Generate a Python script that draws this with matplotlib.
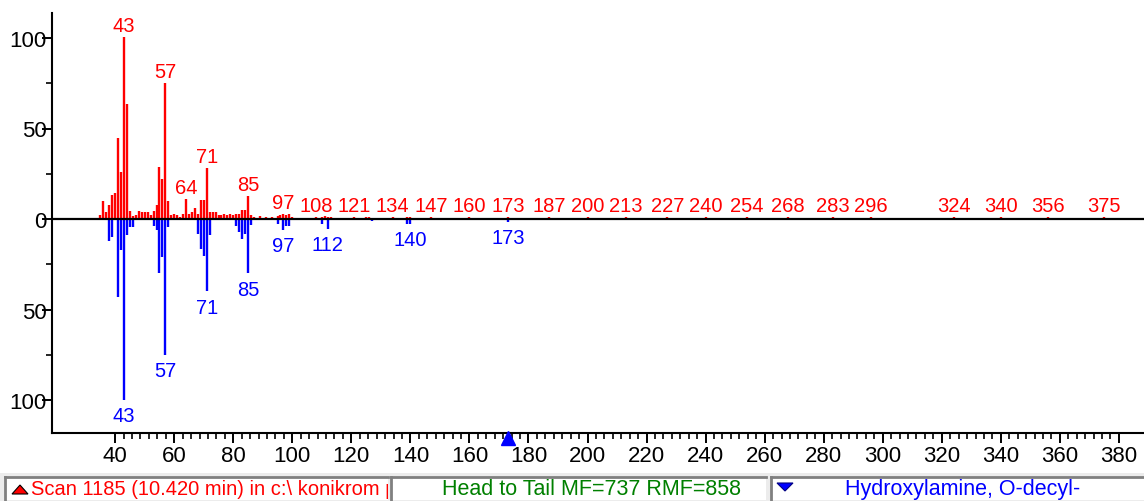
import matplotlib
matplotlib.use("Agg")
import matplotlib.pyplot as plt
from matplotlib.ticker import FixedLocator, FuncFormatter
from matplotlib.patches import Rectangle, Polygon
from matplotlib.lines import Line2D
import matplotlib.transforms as mtransforms

plt.rcParams["font.family"] = ["Liberation Sans", "DejaVu Sans"]

# sample spectrum (head, red)
head_mz = [35, 36, 37, 38, 39, 40, 41, 42, 43, 44,
           45, 46, 47, 48, 49, 50, 51, 52, 53, 54,
           55, 56, 57, 58, 59, 60, 61, 62, 63, 64,
           65, 66, 67, 68, 69, 70, 71, 72, 73, 74,
           75, 76, 77, 78, 79, 80, 81, 82, 83, 84, 85,
           86, 87, 88, 89, 90, 91, 92, 93, 94, 95,
           96, 97, 98, 99, 100, 101, 102, 103, 104, 105,
           106, 107, 108, 109, 110, 111, 112, 113, 114, 115,
           116, 117, 118, 119, 120, 121, 122, 123, 124, 125,
           126, 127, 128, 129, 130, 131, 132, 133, 134, 135,
           136, 137, 138, 139, 140, 141, 142, 143, 144, 145,
           146, 147, 148, 149, 150, 151, 152, 153, 154, 155,
           156, 157, 158, 159, 160, 161, 162, 163, 164, 165,
           166, 167, 168, 169, 170, 171, 172, 173, 174, 175,
           176, 177, 178, 179, 180, 181, 182, 183, 184, 185,
           186, 187, 188, 189, 190, 191, 192, 193, 194, 195,
           196, 197, 198, 199, 200, 201, 202, 203, 204, 205,
           206, 207, 208, 209, 210, 211, 212, 213, 214, 215,
           216, 217, 218, 219, 220, 221, 222, 223, 224, 225,
           226, 227, 228, 229, 230, 231, 232, 234, 235,
           237, 238, 240, 241, 243,
           246, 248, 249, 251, 253, 254, 255,
           256, 258, 264, 265,
           267, 268, 270, 277, 280, 283, 288, 291, 293, 296,
           324, 328, 337, 340, 356, 375]
head_int = [2.4, 10, 4, 7.5, 13.5, 14.5, 45, 26, 100.5, 63.5,
            4.5, 1.5, 2, 4.5, 4, 4, 4, 2, 4.5, 7.5,
            28.5, 22, 75, 10, 2, 3, 2, 1, 3, 11,
            3, 4, 6, 3, 10.5, 10.5, 28, 4, 4, 4,
            2, 2, 3, 2, 3, 2, 3, 3, 5, 5, 12.5,
            2.0, 1.0, 0.8, 1.5, 0.8, 1.0, 0.8, 1.2, 0.8, 1.5,
            2.0, 3.0, 2.0, 2.5, 1.0, 0.8, 0.6, 0.8, 0.6, 0.8,
            0.6, 0.8, 1.2, 0.8, 1.0, 1.5, 1.0, 1.0, 0.6, 0.8,
            0.6, 0.8, 0.6, 0.8, 0.6, 1.2, 0.8, 0.8, 0.6, 1.0,
            1.0, 0.8, 0.6, 0.8, 0.6, 0.8, 0.6, 0.8, 1.2, 0.8,
            0.6, 0.8, 0.8, 1.0, 1.2, 0.8, 0.6, 0.8, 0.6, 0.8,
            0.6, 1.2, 0.8, 0.6, 0.8, 0.6, 0.8, 0.6, 0.8, 0.6,
            0.8, 0.6, 0.8, 0.6, 1.2, 0.8, 0.6, 0.8, 0.6, 0.8,
            0.6, 0.8, 0.6, 0.8, 0.6, 0.8, 0.6, 1.2, 0.8, 0.6,
            0.8, 0.6, 0.8, 0.6, 0.8, 0.6, 0.8, 0.6, 0.8, 0.6,
            0.8, 1.2, 0.6, 0.8, 0.6, 0.8, 0.6, 0.8, 0.6, 0.8,
            0.6, 0.8, 0.6, 0.8, 1.2, 0.6, 0.8, 0.6, 0.8, 0.6,
            0.8, 0.6, 0.8, 0.6, 0.8, 0.6, 0.8, 1.2, 0.6, 0.8,
            0.6, 0.8, 0.6, 0.8, 0.6, 0.8, 0.6, 0.8, 0.6, 0.8,
            0.6, 1.2, 0.8, 0.6, 0.8, 0.6, 0.8, 0.6, 0.8,
            0.6, 0.8, 1.2, 0.6, 0.8,
            0.6, 0.6, 0.8, 0.6, 0.8, 1.2, 0.6,
            0.8, 0.6, 0.6, 0.6,
            0.6, 1.0, 0.6, 0.6, 0.6, 1.0, 0.6, 0.6, 0.6, 1.0,
            1.0, 0.8, 0.8, 1.0, 1.0, 1.0]
head_labels = [43, 57, 64, 71, 85, 97, 108, 121, 134, 147, 160, 173, 187,
               200, 213, 227, 240, 254, 268, 283, 296, 324, 340, 356, 375]

# library spectrum (tail, blue)
tail_mz = [38, 39, 41, 42, 43, 44, 45, 46, 53, 54, 55, 56, 57, 58,
           68, 69, 70, 71, 72, 81, 82, 83, 84, 85, 86,
           95, 97, 98, 99, 110, 112, 127, 139, 140, 173]
tail_int = [12, 10, 43, 17, 100, 9, 4.5, 4.5, 4, 6, 30, 21, 75, 4.5,
            8, 16.5, 20.5, 40, 9, 4, 7, 11, 8.5, 30, 3.5,
            2.5, 6, 4, 4, 2.5, 5.5, 1, 2.5, 2.5, 1.5]
tail_labels = [43, 57, 71, 85, 97, 112, 140, 173]

x_ticks = [40, 60, 80, 100, 120, 140, 160, 180, 200, 220, 240, 260, 280,
           300, 320, 340, 360, 380]
cursor_mz = 173

status_left = "Scan 1185 (10.420 min) in c:\\ konikrom p"
status_mid = "Head to Tail MF=737 RMF=858"
status_right = "Hydroxylamine, O-decyl-"

W, H = 1144, 502
fig = plt.figure(figsize=(W / 100, H / 100), dpi=100)


def fx(px):
    return px / W


def fy(py):
    return 1 - py / H


ax = fig.add_axes([fx(52), fy(434), fx(1144) - fx(52), fy(14) - fy(434)])
ax.set_xlim(18.6, 388.5)
ax.set_ylim(-118.2, 113.8)

ax.vlines(head_mz, 0, head_int, color="#ff0000", lw=1.7, zorder=2)
ax.vlines(tail_mz, 0, [-v for v in tail_int], color="#0000ff", lw=1.7, zorder=2)
ax.axhline(0, color="black", lw=1.6, zorder=3)

for m in head_labels:
    v = head_int[head_mz.index(m)]
    ax.annotate(str(m), (m, v), xytext=(0, 1.5), textcoords="offset points",
                ha="center", va="bottom", color="#ff0000", fontsize=14.5)
for m in tail_labels:
    v = tail_int[tail_mz.index(m)]
    ax.annotate(str(m), (m, -v), xytext=(0, -4.5), textcoords="offset points",
                ha="center", va="top", color="#0000ff", fontsize=14.5)

for s in ["top", "right"]:
    ax.spines[s].set_visible(False)
for s in ["left", "bottom"]:
    ax.spines[s].set_linewidth(1.5)

ax.xaxis.set_major_locator(FixedLocator(x_ticks))
minor_x = [40 + i * 20 / 7 for i in range(0, 120)]
ax.xaxis.set_minor_locator(FixedLocator([t for t in minor_x if t <= 388]))
ax.yaxis.set_major_locator(FixedLocator([-100, -50, 0, 50, 100]))
ax.yaxis.set_minor_locator(FixedLocator([-75, -25, 25, 75]))
ax.yaxis.set_major_formatter(FuncFormatter(lambda v, p: f"{abs(v):g}"))
ax.tick_params(which="major", length=7, width=1.4, labelsize=16)
ax.tick_params(which="minor", length=4, width=1.2)
ax.tick_params(axis="x", pad=1.5)
ax.tick_params(axis="y", pad=-3)

# cursor marker under the axis
trans = mtransforms.blended_transform_factory(ax.transData, ax.transAxes)
ax.plot([cursor_mz], [-0.012], transform=trans, marker="^", color="#0000ff",
        markersize=10, clip_on=False, zorder=5)

# status bar
fig.patches.append(Rectangle((0, 0), 1, fy(474), transform=fig.transFigure,
                             facecolor="#ececec", edgecolor="none"))


def status_box(x0, x1, y0=478, y1=501):
    r = Rectangle((fx(x0), fy(y1)), fx(x1) - fx(x0), fy(y0) - fy(y1),
                  transform=fig.transFigure, facecolor="white", edgecolor="none")
    fig.patches.append(r)
    fig.lines.append(Line2D([fx(x0), fx(x1)], [fy(y0), fy(y0)], transform=fig.transFigure,
                            color="#808080", lw=2))
    fig.lines.append(Line2D([fx(x0), fx(x0)], [fy(y0), fy(y1)], transform=fig.transFigure,
                            color="#808080", lw=2))
    return r


box1 = status_box(5, 388)
box2 = status_box(391, 766)
box3 = status_box(771, 1144)

fig.patches.append(Polygon([(fx(12), fy(495)), (fx(28), fy(495)), (fx(20), fy(486))],
                           closed=True, transform=fig.transFigure,
                           facecolor="#ff0000", edgecolor="black", lw=0.8))
fig.patches.append(Polygon([(fx(777), fy(484)), (fx(793), fy(484)), (fx(785), fy(492))],
                           closed=True, transform=fig.transFigure,
                           facecolor="#0000ff", edgecolor="#000080", lw=0.8))

t1 = fig.text(fx(31), fy(490), status_left, color="#ff0000", fontsize=14.5,
              ha="left", va="center")
t1.set_clip_path(box1)
fig.text(fx(591), fy(490), status_mid, color="#008000", fontsize=15.5,
         ha="center", va="center")
fig.text(fx(963), fy(490), status_right, color="#0000ff", fontsize=15.5,
         ha="center", va="center")

fig.savefig("out.png", dpi=100)
